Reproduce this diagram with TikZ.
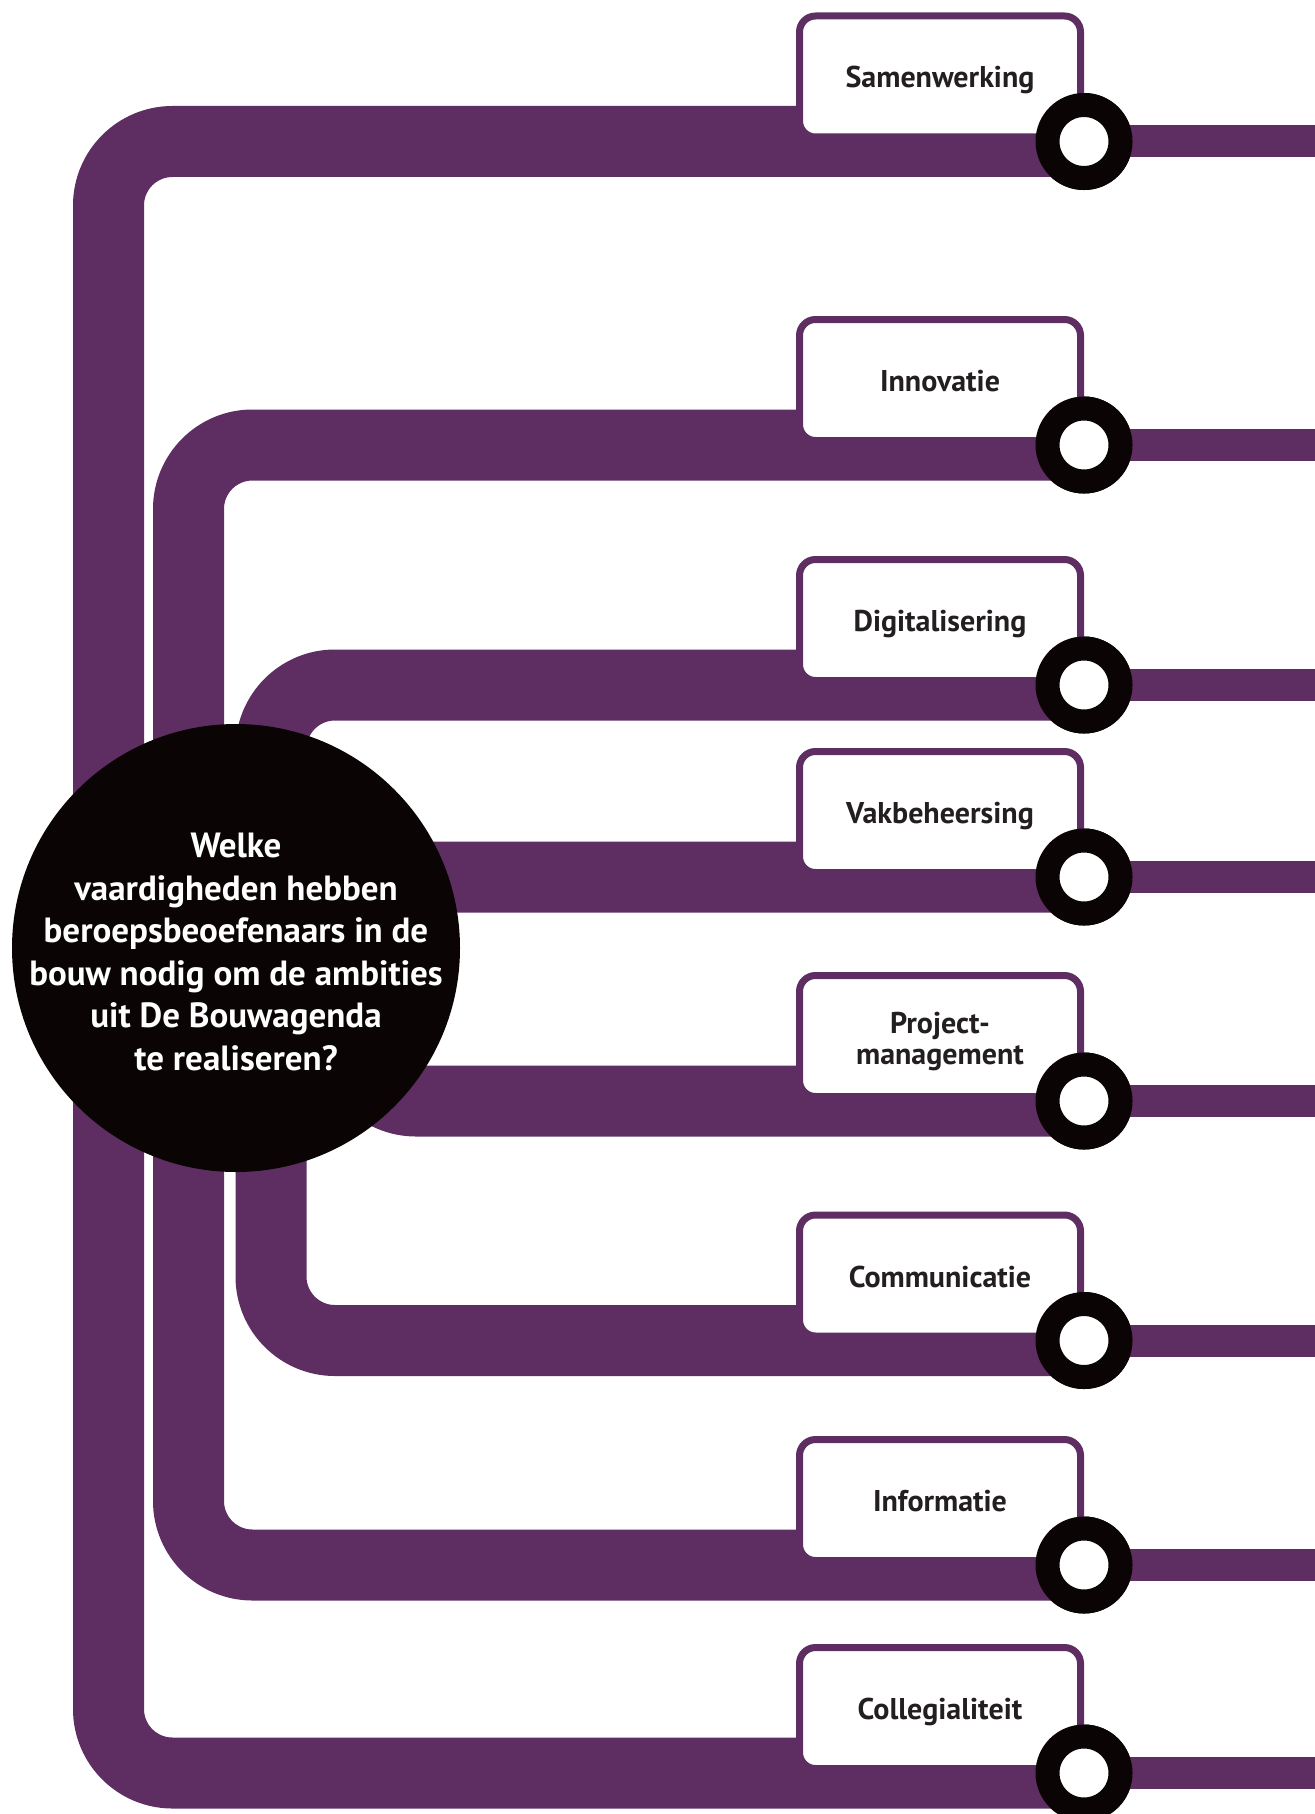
\documentclass[tikz,border=0pt]{standalone}
\usepackage{fontspec}
\setmainfont{PT Sans}
\usepackage{tikz}
\usetikzlibrary{positioning}
\definecolor{paars}{RGB}{94,46,98}
\definecolor{zwart}{RGB}{10,4,4}
\definecolor{tekst}{RGB}{35,31,32}

\begin{document}
\begin{tikzpicture}[x=1pt, y=-1pt, font=\bfseries]
      \tikzstyle{pipe}=[draw=paars, line width=71pt, rounded corners=64pt]
      \tikzstyle{stub}=[draw=paars, line width=32pt]
      \tikzstyle{ring}=[circle, draw=zwart, fill=white, line width=24pt, minimum size=73pt, inner sep=0pt]
      \tikzstyle{skillbox}=[draw=paars, fill=white, line width=7pt, rounded corners=16pt, minimum width=281pt, minimum height=121pt, inner sep=0pt, text height=23pt, text depth=0pt, text=tekst, align=center, font=\fontsize{30}{31}\selectfont\bfseries]
      \tikzstyle{vraag}=[text=white, align=center, font=\fontsize{35}{42.6}\selectfont\bfseries]
      \useasboundingbox (0,0) rectangle (1314,1814);
      % rings on the right
      \node[ring] (r1) at (1084,141.5) {};
      \node[ring] (r2) at (1084,445) {};
      \node[ring] (r3) at (1084,685) {};
      \node[ring] (r4) at (1084,877) {};
      \node[ring] (r5) at (1084,1101) {};
      \node[ring] (r6) at (1084,1340.5) {};
      \node[ring] (r7) at (1084,1565) {};
      \node[ring] (r8) at (1084,1773) {};
      \coordinate (k1) at (108.5,0);
      \coordinate (k2) at (188.5,0);
      \coordinate (k3) at (271,0);
      \coordinate (k4) at (352,0);
      % pipes
      \draw[pipe] (r1.center) -| (k1 |- r8.center) -- (r8.center);
      \draw[pipe] (r2.center) -| (k2 |- r7.center) -- (r7.center);
      \draw[pipe] (r3.center) -| (k3 |- r6.center) -- (r6.center);
      \draw[pipe] (r4.center) -| (k4 |- r5.center) -- (r5.center);
      \foreach \r in {r1,r2,r3,r4,r5,r6,r7,r8}
        \draw[stub] (\r.center) -- +(240,0);
      % question
      \node[circle, fill=zwart, minimum size=448pt, inner sep=0pt] (q) at (236,948) {};
      \node[vraag] (qt) at (236,952) {Welke\\vaardigheden hebben\\beroepsbeoefenaars in de\\bouw nodig om de ambities\\uit De Bouwagenda\\te realiseren?};
      % labels
      \node[skillbox] (b1) at (940,76.5) {Samenwerking};
      \node[skillbox] (b2) at (940,380) {Innovatie};
      \node[skillbox] (b3) at (940,620) {Digitalisering};
      \node[skillbox] (b4) at (940,812) {Vakbeheersing};
      \node[skillbox, text height=57pt] (b5) at (940,1036) {Project-\\management};
      \node[skillbox] (b6) at (940,1275.5) {Communicatie};
      \node[skillbox] (b7) at (940,1500) {Informatie};
      \node[skillbox] (b8) at (940,1708) {Collegialiteit};
      % rings again on top
      \foreach \r in {r1,r2,r3,r4,r5,r6,r7,r8}
        \node[ring] at (\r) {};
\end{tikzpicture}
\end{document}
